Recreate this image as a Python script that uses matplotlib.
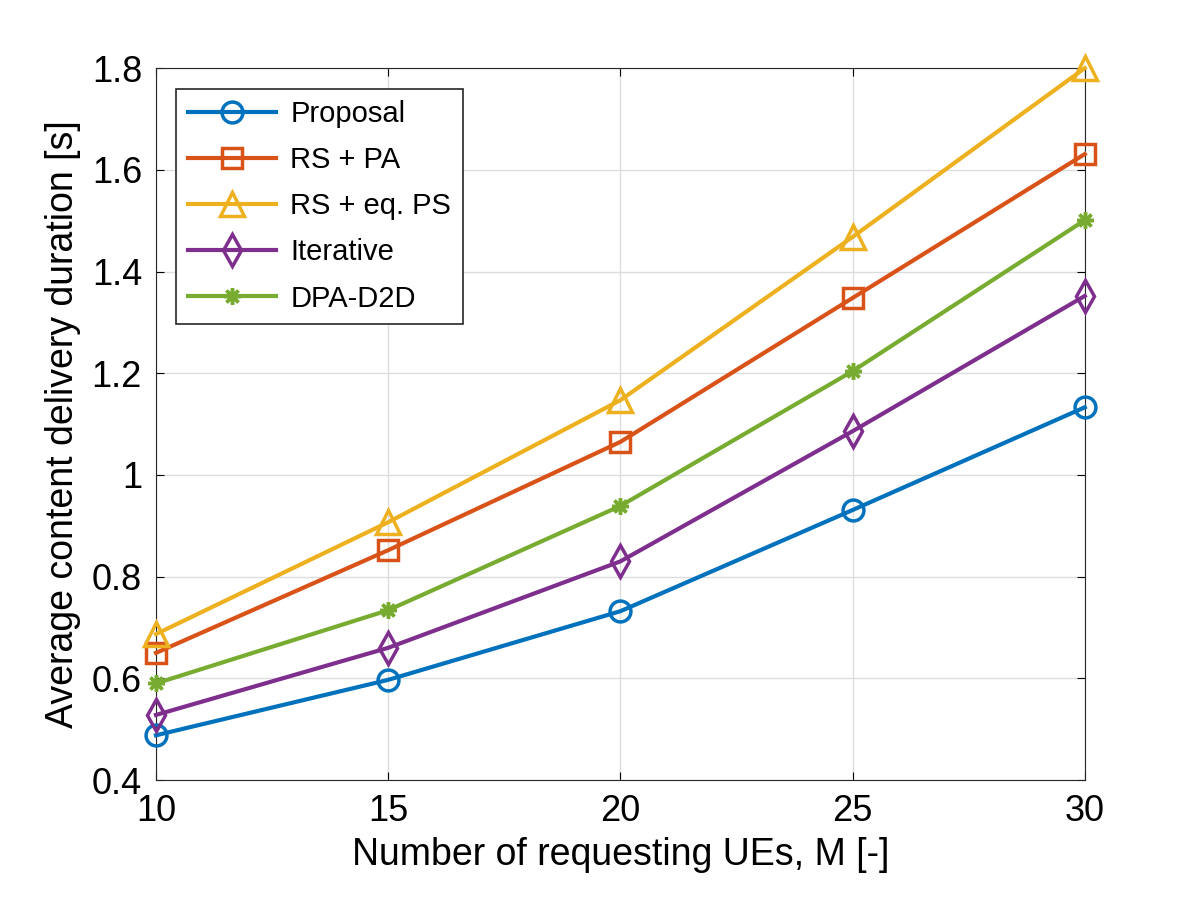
import matplotlib.pyplot as plt

plt.rcParams['font.family'] = ['Liberation Sans', 'DejaVu Sans']

M = [10, 15, 20, 25, 30]
proposal = [0.488, 0.597, 0.732, 0.931, 1.133]
rs_pa = [0.650, 0.852, 1.065, 1.348, 1.631]
rs_eqps = [0.687, 0.907, 1.147, 1.468, 1.800]
iterative = [0.528, 0.660, 0.830, 1.086, 1.352]
dpa_d2d = [0.590, 0.734, 0.939, 1.204, 1.501]

series = [
    ('Proposal', proposal, '#0072BD', 'o', 15),
    ('RS + PA', rs_pa, '#D95319', 's', 14),
    ('RS + eq. PS', rs_eqps, '#EDB120', '^', 17),
    ('Iterative', iterative, '#7E2F8E', 'd', 16),
    ('DPA-D2D', dpa_d2d, '#77AC30', (8, 2, 0), 12),
]

fig = plt.figure(figsize=(12, 9), dpi=100)
ax = fig.add_axes([0.13, 0.1333, 0.774, 0.791])
for name, y, c, m, ms in series:
    ax.plot(M, y, color=c, marker=m, markersize=ms, markerfacecolor='none',
            markeredgewidth=2.5, linewidth=3, label=name, clip_on=False, zorder=3)

ax.set_xlim(10, 30)
ax.set_ylim(0.4, 1.8)
ax.set_xticks(M)
ax.set_yticks([0.4, 0.6, 0.8, 1.0, 1.2, 1.4, 1.6, 1.8])
ax.set_yticklabels(['0.4', '0.6', '0.8', '1', '1.2', '1.4', '1.6', '1.8'])
ax.grid(True, color='#dddddd', linewidth=1)
ax.tick_params(labelsize=26, direction='in', length=6, top=True, right=True, pad=10)
for s in ax.spines.values():
    s.set_color('#262626')
ax.set_xlabel('Number of requesting UEs, M [-]', fontsize=27, labelpad=6)
ax.set_ylabel('Average content delivery duration [s]', fontsize=27, labelpad=8)
leg = ax.legend(loc='upper left', fontsize=21, fancybox=False, framealpha=1,
                edgecolor='#262626', handlelength=3.0, borderaxespad=0.7,
                labelspacing=0.62, handletextpad=0.5)
leg.get_frame().set_linewidth(1.2)

fig.savefig('out.png')
